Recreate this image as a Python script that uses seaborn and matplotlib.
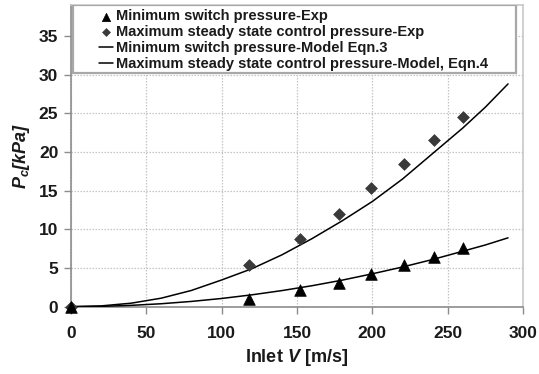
import matplotlib
matplotlib.use("Agg")
import matplotlib.pyplot as plt
import seaborn as sns
import pandas as pd
from matplotlib.patches import Rectangle

# ---- data ----
v_exp = [0, 118, 152, 178, 199, 221, 241, 260]
p_min_exp = [0, 1.0, 2.2, 3.1, 4.2, 5.4, 6.4, 7.55]
p_max_exp = [0, 5.4, 8.8, 12.0, 15.3, 18.4, 21.5, 24.5]
v_model = [0, 20, 40, 60, 80, 100, 120, 140, 160, 180, 200, 220, 240, 260, 275, 290]
p_min_model = [0, 0.04, 0.17, 0.38, 0.68, 1.06, 1.53, 2.08, 2.71, 3.43, 4.25, 5.13,
               6.1, 7.17, 7.98, 8.9]
p_max_model = [0, 0.1, 0.45, 1.1, 2.1, 3.45, 4.9, 6.7, 8.8, 11.1, 13.6, 16.5,
               19.8, 23.1, 25.8, 28.8]
x_ticks = [0, 50, 100, 150, 200, 250, 300]
y_ticks = [0, 5, 10, 15, 20, 25, 30, 35]
labels = ["Minimum switch pressure-Exp",
          "Maximum steady state control pressure-Exp",
          "Minimum switch pressure-Model Eqn.3",
          "Maximum steady state control pressure-Model, Eqn.4"]

sns.set_style("white")
plt.rcParams["font.family"] = ["Liberation Sans", "DejaVu Sans"]
plt.rcParams["font.weight"] = "bold"
plt.rcParams["mathtext.fontset"] = "custom"
plt.rcParams["mathtext.it"] = "Liberation Sans:italic:bold"
plt.rcParams["mathtext.rm"] = "Liberation Sans:bold"

fig = plt.figure(figsize=(5.39, 3.74), dpi=100)
ax = fig.add_axes([0.1314, 0.180, 0.8391, 0.8066])

exp_df = pd.DataFrame({"v": v_exp, "pmin": p_min_exp, "pmax": p_max_exp})
mod_df = pd.DataFrame({"v": v_model, "pmin": p_min_model, "pmax": p_max_model})

sns.lineplot(data=mod_df, x="v", y="pmin", ax=ax, color="black", lw=1.1,
             sort=False, estimator=None, label=labels[2], zorder=3)
sns.lineplot(data=mod_df, x="v", y="pmax", ax=ax, color="black", lw=1.1,
             sort=False, estimator=None, label=labels[3], zorder=3)
sns.scatterplot(data=exp_df, x="v", y="pmin", ax=ax, marker="^", s=70,
                color="black", edgecolor="black", linewidth=0.5,
                label=labels[0], zorder=4.5, clip_on=False)
sns.scatterplot(data=exp_df, x="v", y="pmax", ax=ax, marker="D", s=36,
                color="#3a3a3a", edgecolor="#3a3a3a", linewidth=0.5,
                label=labels[1], zorder=4, clip_on=False)

ax.set_xlim(0, 300)
ax.set_ylim(0, 39)
ax.set_xticks(x_ticks)
ax.set_yticks(y_ticks)
ax.grid(True, color="#c4c4c4", linestyle=(0, (1.2, 1.2)), linewidth=0.9)
ax.set_axisbelow(True)

for side in ["top", "right"]:
    ax.spines[side].set_color("#c8c8c8")
    ax.spines[side].set_linewidth(1.2)
for side in ["left", "bottom"]:
    ax.spines[side].set_color("#8c8c8c")
    ax.spines[side].set_linewidth(1.2)

ax.tick_params(axis="both", direction="out", length=5, width=1, color="#8c8c8c",
               labelsize=12.5, labelcolor="#1a1a1a")
ax.tick_params(axis="y", pad=4)
ax.tick_params(axis="x", pad=9)
ax.tick_params(left=True, bottom=True)
for t in ax.get_xticklabels() + ax.get_yticklabels():
    t.set_fontweight("bold")

ax.set_xlabel(r"Inlet $V$ [m/s]", fontsize=13, fontweight="bold", color="#1a1a1a", labelpad=4)
ax.set_ylabel(r"$P_c$[kPa]", fontsize=13, fontweight="bold", fontstyle="italic",
              color="#1a1a1a", labelpad=5)

# legend box
rect = Rectangle((0.004, 0.775), 0.98, 0.225, transform=ax.transAxes,
                 facecolor="white", edgecolor="#a8a8a8", linewidth=1.6, zorder=5)
ax.add_patch(rect)

handles, labs = ax.get_legend_handles_labels()
order = [labs.index(l) for l in labels]
leg = ax.legend([handles[i] for i in order], [labs[i] for i in order],
                loc="upper left", bbox_to_anchor=(0.053, 1.0), frameon=False,
                fontsize=10.5, handlelength=0.95, handletextpad=0.2,
                labelspacing=0.12, borderpad=0.3, borderaxespad=0.0)
leg.set_zorder(6)
leg.legend_handles[0].set_sizes([36])
leg.legend_handles[1].set_sizes([16])
for t in leg.get_texts():
    t.set_fontweight("bold")
    t.set_color("#1a1a1a")

fig.savefig("out.png", dpi=100)
